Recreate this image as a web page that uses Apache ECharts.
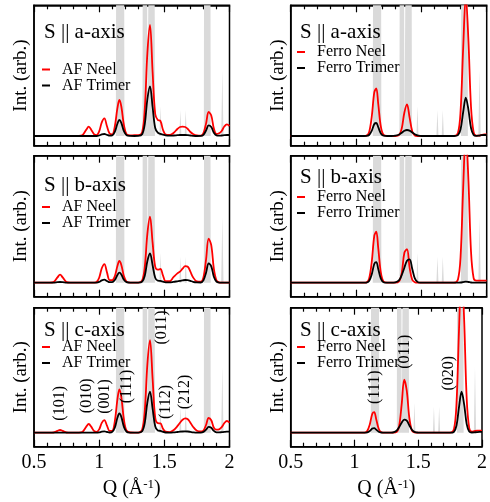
<!DOCTYPE html>
<html>
<head>
<meta charset="utf-8">
<script src="https://cdn.jsdelivr.net/npm/echarts@6/dist/echarts.min.js"></script>
<style>
  html, body { margin: 0; padding: 0; background: #fff; }
  #chart { width: 490px; height: 502px; }
</style>
</head>
<body>
<div id="chart"></div>
<script>
// Q sampling shared by the calculated curves (rows of 10)
const qValues = [
  0.50, 0.62, 0.65, 0.68, 0.70, 0.72, 0.75, 0.78, 0.84, 0.87,
  0.90, 0.92, 0.94, 0.96, 0.98, 1.00, 1.02, 1.04, 1.06, 1.08,
  1.10, 1.12, 1.14, 1.155, 1.17, 1.19, 1.21, 1.24, 1.27, 1.30,
  1.33, 1.35, 1.37, 1.39, 1.41, 1.43, 1.45, 1.47, 1.49, 1.51,
  1.54, 1.57, 1.60, 1.62, 1.64, 1.66, 1.68, 1.70, 1.72, 1.75,
  1.78, 1.80, 1.82, 1.84, 1.86, 1.88, 1.90, 1.92, 1.94, 1.96,
  1.98, 2.00
];

// S || a-axis
const aNeelAF = [
  0, 0, 0, 0, 0, 0, 0, 0, 0.1, 0.7,
  6.1, 9.3, 6.1, 1.9, 0.9, 4.6, 13.6, 17.6, 9.7, 2.5,
  1.7, 9.5, 27.8, 36, 29.5, 10.8, 1.8, 0.6, 0.8, 0.8,
  3.9, 27, 83, 111, 64, 22, 16, 15, 6, 1.5,
  1, 3, 7, 9, 9.3, 9, 7, 4, 2, 0.5,
  0.3, 2.8, 12.4, 24, 20.4, 7.5, 2, 2.7, 5, 9.5,
  11.7, 10
];
const aTriAF = [
  0, 0, 0, 0, 0, 0, 0, 0, 0, 0,
  0, 0, 0, 0, 0, 0.5, 1.6, 2, 1.2, 0.4,
  0.6, 4.2, 12.3, 16, 13.1, 4.8, 0.8, 0.1, 0, 0.1,
  1.8, 12, 37, 49.7, 29, 8, 3.3, 2.2, 1.4, 0.6,
  0.3, 0.5, 0.8, 1, 1, 1, 0.8, 0.5, 0.2, 0,
  0.1, 1.2, 5.5, 10.6, 9, 3.3, 0.6, 0.3, 0.5, 0.8,
  1, 1
];
const aNeelF = [
  0, 0, 0, 0, 0, 0, 0, 0, 0, 0,
  0, 0, 0, 0, 0, 0, 0, 0, 0, 0.3,
  3.7, 19, 43.8, 47.5, 32, 9.3, 1.2, 0.1, 0, 0,
  1.1, 7.6, 23.5, 31.6, 18.4, 4.8, 0.5, 0, 0, 0,
  0, 0, 0, 0, 0, 0, 0, 0, 0, 0,
  3, 24.6, 88, 140, 96, 29, 3.8, 0.3, 0.3, 1,
  1.5, 1.5
];
const aTriF = [
  0, 0, 0, 0, 0, 0, 0, 0, 0, 0,
  0, 0, 0, 0, 0, 0, 0, 0, 0, 0.1,
  1, 5.2, 12, 13, 8.8, 2.5, 0.3, 0, 0, 0.3,
  1.5, 3.3, 5.2, 6, 5.4, 3.6, 1.8, 0.7, 0.2, 0,
  0, 0, 0, 0, 0, 0, 0, 0, 0, 0,
  0.8, 6.7, 24, 38.3, 26.4, 8, 1, 0.2, 0.3, 0.8,
  1, 1
];

// S || b-axis
const bNeelAF = [
  0, 0, 0.6, 5.3, 8, 5.3, 0.6, 0, 0, 0,
  0, 0, 0, 0.1, 0.7, 4.9, 14.4, 18.6, 10.3, 2.6,
  2.5, 6.5, 16.7, 21.7, 17.8, 6.5, 1.1, 0.1, 0, 0.1,
  2.3, 15.8, 49, 66, 40, 16, 13, 13.7, 7, 1.5,
  1.5, 5.5, 9.3, 11, 14, 16.5, 16, 11, 5.5, 1.2,
  1, 5.2, 23, 44, 37.6, 13.8, 2.3, 0.3, 0, 0,
  0, 0
];
const bTriAF = [
  0, 0, 0, 0.5, 0.7, 0.5, 0.1, 0, 0, 0,
  0, 0, 0, 0, 0.1, 0.8, 2.3, 3, 1.7, 0.5,
  0.5, 2.7, 7.7, 10, 8.2, 3, 0.5, 0, 0, 0,
  1, 7, 21.7, 29.2, 17.5, 5, 2, 1.8, 1, 0.4,
  0.3, 0.8, 1.4, 1.8, 2.3, 2.7, 2.6, 1.8, 0.9, 0.3,
  0.2, 2.3, 10, 19.2, 16.4, 6, 1, 0.1, 0, 0,
  0, 0
];
const bNeelF = [
  0, 0, 0, 0, 0, 0, 0, 0, 0, 0,
  0, 0, 0, 0, 0, 0, 0, 0, 0, 0.3,
  4, 20.4, 47, 51, 34.5, 10, 1.3, 0.1, 0, 0,
  1.5, 9.5, 30, 33.5, 15, 3, 0.5, 0, 0, 0,
  0, 0, 0, 0, 0, 0, 0, 0, 0, 0,
  3.2, 26, 95, 150, 103, 31, 4.5, 2, 2, 2,
  2, 2
];
const bTriF = [
  0, 0, 0, 0, 0, 0, 0, 0, 0, 0,
  0, 0, 0, 0, 0, 0, 0, 0, 0, 0.1,
  1.6, 8.2, 19, 20.6, 13.8, 4, 0.5, 0, 0, 0.3,
  2.5, 7.7, 15, 22, 23.3, 14, 4.3, 0.8, 0, 0,
  0, 0, 0, 0, 0, 0, 0, 0, 0, 0,
  0, 0.2, 0.6, 1, 0.7, 0.2, 0, 0, 0, 0,
  0, 0
];

// S || c-axis
const cNeelAF = [
  0, 0, 0.2, 1.8, 2.7, 1.8, 0.2, 0, 0.1, 0.7,
  5.8, 8.7, 5.8, 1.8, 0.8, 3.3, 9.8, 12.6, 7, 1.8,
  1.9, 11.3, 33.4, 43.3, 35.5, 13, 2.2, 0.2, 0.1, 0.1,
  3.2, 22, 68.6, 92.5, 54, 15, 9.5, 9.3, 4, 1,
  0.6, 2.5, 6.5, 10, 13, 14.3, 13.5, 10, 6, 2,
  1.3, 2.2, 7.7, 14.7, 12.5, 5, 3, 3.3, 5.5, 9.5,
  11.7, 10
];
const cTriAF = [
  0, 0, 0, 0, 0, 0, 0, 0, 0, 0,
  0, 0, 0, 0, 0, 0.3, 1, 1.3, 0.7, 0.2,
  0.8, 5, 14.9, 19.3, 15.8, 5.8, 1, 0.1, 0, 0,
  1.4, 9.8, 30.3, 41, 24, 6.5, 2.2, 1.8, 0.8, 0.2,
  0.1, 0.3, 0.7, 1, 1.2, 1.3, 1.2, 0.8, 0.4, 0.1,
  0.1, 0.8, 3, 5.8, 4.9, 1.8, 0.4, 0.3, 0.5, 0.8,
  1, 1
];
const cNeelF = [
  0, 0, 0, 0, 0, 0, 0, 0, 0, 0,
  0, 0, 0, 0, 0, 0, 0, 0, 0, 0.1,
  1.6, 8.2, 19, 20.5, 13.8, 4, 0.5, 0, 0, 0.1,
  0.7, 6.6, 28, 53, 42, 15, 2.3, 0.3, 0, 0,
  0, 0, 0, 0, 0, 0, 0, 0, 0, 0,
  3.6, 29, 104, 165, 113, 34, 4.5, 1, 1.5, 2,
  2, 2
];
const cTriF = [
  0, 0, 0, 0, 0, 0, 0, 0, 0, 0,
  0, 0, 0, 0, 0, 0, 0, 0, 0, 0,
  0.4, 1.8, 4.1, 4.6, 3.1, 1, 0.2, 0, 0, 0.2,
  2, 5.5, 10, 13, 12, 7.5, 3, 0.8, 0.2, 0,
  0, 0, 0, 0, 0, 0, 0, 0, 0, 0,
  0.9, 7.2, 25.8, 41, 28.3, 8.6, 1.1, 0.2, 0.3, 0.6,
  0.8, 0.8
];

// nuclear peaks drawn in grey behind every panel
const grayQ = [0.5, 1.128, 1.132, 1.19, 1.194, 1.332, 1.336, 1.366, 1.37, 1.383,
  1.386, 1.424, 1.428, 1.462, 1.47, 1.478, 1.615, 1.623, 1.631, 1.656,
  1.664, 1.672, 1.803, 1.806, 1.852, 1.856, 1.936, 1.945, 1.954, 2.0];
const grayI = [0, 0, 300, 300, 0, 0, 300, 300, 0, 0,
  300, 300, 0, 0, 30, 0, 0, 26, 0, 0,
  26, 0, 0, 300, 300, 0, 0, 66, 0, 0];

// peak indexing, S || c-axis panels
const hklAF = ['(101)', '(010)', '(001)', '(111)', '(011)', '(112)', '(212)'];
const hklAFQ = [0.70, 0.908, 1.042, 1.213, 1.482, 1.508, 1.656];
const hklAFI = [29.4, 36.9, 36.2, 46.2, 105.2, 30.7, 40.7];
const hklF = ['(111)', '(011)', '(020)'];
const hklFQ = [1.158, 1.395, 1.74];
const hklFI = [45.5, 81, 59.5];

const afNames = ['AF Neel', 'AF Trimer'];
const ferroNames = ['Ferro Neel', 'Ferro Trimer'];

const SERIF = '"Liberation Serif", "Times New Roman", serif';

const colLeft = [34, 290.7];
const colWidth = [195.5, 196];
const rowTop = [5.3, 155.7, 307.7];
const rowHeight = [140.4, 141, 139];
const rowBase = [9.7, 14, 14];

const panels = [
  { row: 0, col: 0, title: 'S || a-axis', neel: aNeelAF, tri: aTriAF, names: afNames, titleY: 32, legendTop: 61.5 },
  { row: 0, col: 1, title: 'S || a-axis', neel: aNeelF, tri: aTriF, names: ferroNames, titleY: 32, legendTop: 44 },
  { row: 1, col: 0, title: 'S || b-axis', neel: bNeelAF, tri: bTriAF, names: afNames, titleY: 185, legendTop: 199 },
  { row: 1, col: 1, title: 'S || b-axis', neel: bNeelF, tri: bTriF, names: ferroNames, titleY: 177, legendTop: 189 },
  { row: 2, col: 0, title: 'S || c-axis', neel: cNeelAF, tri: cTriAF, names: afNames, titleY: 330, legendTop: 339 },
  { row: 2, col: 1, title: 'S || c-axis', neel: cNeelF, tri: cTriF, names: ferroNames, titleY: 330, legendTop: 339 }
];

const toPairs = (xs, ys) => xs.map((x, i) => [x, ys[i]]);

function xAxisFor(i, position, bottomRow) {
  const ax = {
    type: 'value',
    gridIndex: i,
    position: position,
    min: 0.5,
    max: 2,
    interval: 0.5,
    axisLine: { show: true, onZero: false, lineStyle: { color: '#000', width: 1.5 } },
    axisTick: { show: true, inside: true, length: 7, lineStyle: { color: '#000', width: 1.2 } },
    minorTick: { show: true, splitNumber: 5, length: 4, lineStyle: { color: '#000', width: 1.2 } },
    splitLine: { show: false },
    minorSplitLine: { show: false },
    axisLabel: { show: false }
  };
  if (position === 'bottom' && bottomRow) {
    ax.axisLabel = { show: true, color: '#000', fontFamily: SERIF, fontSize: 20, margin: 6 };
    ax.name = 'Q (Å{sup|-1})';
    ax.nameLocation = 'middle';
    ax.nameGap = 31;
    ax.nameTextStyle = {
      color: '#000', fontFamily: SERIF, fontSize: 20,
      rich: { sup: { fontFamily: SERIF, fontSize: 13, color: '#000', padding: [0, 0, 9, 0] } }
    };
  }
  return ax;
}

const grids = [], xAxes = [], yAxes = [], series = [], legends = [], titles = [];

panels.forEach((p, i) => {
  grids.push({
    left: colLeft[p.col], top: rowTop[p.row], width: colWidth[p.col], height: rowHeight[p.row],
    show: true, borderColor: '#000', borderWidth: 1.5, backgroundColor: 'transparent'
  });
  xAxes.push(xAxisFor(i, 'bottom', p.row === 2));
  xAxes.push(xAxisFor(i, 'top', false));
  yAxes.push({
    type: 'value', gridIndex: i,
    min: -rowBase[p.row], max: rowHeight[p.row] - rowBase[p.row],
    axisLine: { show: true, onZero: false, lineStyle: { color: '#000', width: 1.5 } },
    axisTick: { show: false }, axisLabel: { show: false }, splitLine: { show: false },
    name: 'Int. (arb.)', nameLocation: 'middle', nameGap: 3, nameRotate: 90,
    nameTextStyle: { color: '#000', fontFamily: SERIF, fontSize: 19 }
  });
  series.push({
    type: 'line', xAxisIndex: 2 * i, yAxisIndex: i, data: toPairs(grayQ, grayI),
    symbol: 'none', silent: true, z: 1,
    lineStyle: { width: 0, opacity: 0 },
    areaStyle: { color: '#dadada', opacity: 1 }
  });
  series.push({
    type: 'line', name: p.names[0], xAxisIndex: 2 * i, yAxisIndex: i,
    data: toPairs(qValues, p.neel), symbol: 'none', smooth: 0.35, z: 3,
    lineStyle: { color: '#ff0000', width: 1.8 }, itemStyle: { color: '#ff0000' }
  });
  series.push({
    type: 'line', name: p.names[1], xAxisIndex: 2 * i, yAxisIndex: i,
    data: toPairs(qValues, p.tri), symbol: 'none', smooth: 0.35, z: 4,
    lineStyle: { color: '#000', width: 1.8 }, itemStyle: { color: '#000' }
  });
  legends.push({
    orient: 'vertical', left: p.col === 0 ? 42 : 297, top: p.legendTop, padding: 0,
    icon: 'rect', itemWidth: 8, itemHeight: 2, itemGap: 0, z: 10,
    selectedMode: false, data: p.names,
    textStyle: { color: '#000', fontFamily: SERIF, fontSize: 16, lineHeight: 16, padding: [0, 0, 0, 7] }
  });
  titles.push({
    type: 'text', x: p.col === 0 ? 44 : 300, y: p.titleY, z: 10,
    style: { text: p.title, fill: '#000', fontFamily: SERIF, fontSize: 21, verticalAlign: 'middle' }
  });
});

const chart = echarts.init(document.getElementById('chart'), null, { renderer: 'canvas' });
chart.setOption({
  animation: false,
  grid: grids,
  xAxis: xAxes,
  yAxis: yAxes,
  legend: legends,
  series: series
});

// rotated hkl labels anchored at (Q, intensity) in the c-axis panels
function hklLabels(gridIndex, labels, qs, hs) {
  return labels.map((t, k) => {
    const pt = chart.convertToPixel({ gridIndex: gridIndex }, [qs[k], hs[k]]);
    return {
      type: 'text', x: pt[0], y: pt[1], rotation: Math.PI / 2, z: 10,
      style: { text: t, fill: '#000', fontFamily: SERIF, fontSize: 16, align: 'center', verticalAlign: 'middle' }
    };
  });
}

chart.setOption({
  graphic: titles
    .concat(hklLabels(4, hklAF, hklAFQ, hklAFI))
    .concat(hklLabels(5, hklF, hklFQ, hklFI))
});
</script>
</body>
</html>
